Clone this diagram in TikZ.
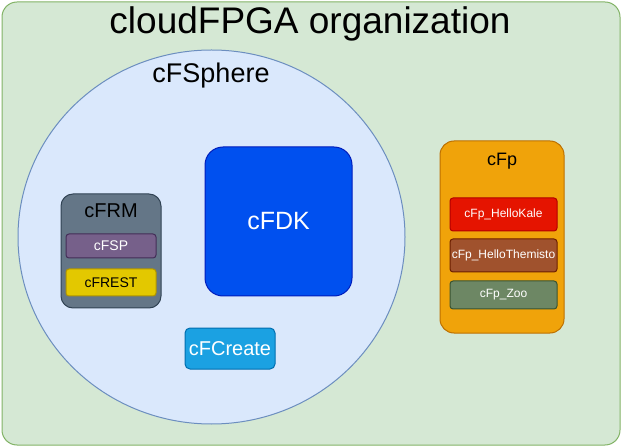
\documentclass[tikz,border=0pt]{standalone}
\usepackage{fontspec}
\setmainfont{Liberation Sans}
\usetikzlibrary{positioning,shapes.geometric}
\definecolor{orgfill}{HTML}{D5E8D4}\definecolor{orgline}{HTML}{82B366}
\definecolor{sphfill}{HTML}{DAE8FC}\definecolor{sphline}{HTML}{6C8EBF}
\definecolor{fdkfill}{HTML}{0050EF}\definecolor{fdkline}{HTML}{001DBC}
\definecolor{frmfill}{HTML}{647687}\definecolor{frmline}{HTML}{314354}
\definecolor{fspfill}{HTML}{76608A}\definecolor{fspline}{HTML}{432D57}
\definecolor{restfill}{HTML}{E3C800}\definecolor{restline}{HTML}{B09500}
\definecolor{crfill}{HTML}{1BA1E2}\definecolor{crline}{HTML}{006EAF}
\definecolor{fpfill}{HTML}{F0A30A}\definecolor{fpline}{HTML}{BD7000}
\definecolor{kalefill}{HTML}{E51400}\definecolor{kaleline}{HTML}{B20000}
\definecolor{themfill}{HTML}{A0522D}\definecolor{themline}{HTML}{6D1F00}
\definecolor{zoofill}{HTML}{6D8764}\definecolor{zooline}{HTML}{3A5431}
\newcommand\pxfont[1]{\fontsize{#1}{#1}\selectfont}
\tikzset{
  box/.style={draw, rounded corners=#1, line width=1pt, inner sep=0pt},
  box/.default=6pt,
  sz/.style 2 args={minimum width=#1, minimum height=#2},
}
\begin{document}
\begin{tikzpicture}[x=1pt,y=-1pt]
		\useasboundingbox (0,0) rectangle (621,446);
		\node[box=15pt, fill=orgfill, draw=orgline, sz={618pt}{443pt}] (org) at (311,223.5) {};
        \node (orgtitle) at (310,24) {\pxfont{37}cloudFPGA organization};
		\node[ellipse, draw=sphline, fill=sphfill, line width=1pt, sz={387pt}{374pt}] (sphere) at (211.5,237) {};
        \node (sphtitle) at (211,76) {\pxfont{27}cFSphere};
        % inside the sphere
		\node[box=18pt, fill=fdkfill, draw=fdkline, sz={147pt}{149pt}, text=white] (fdk) at (278.5,221.5) {\pxfont{25}cFDK};
		\node[box=12pt, fill=frmfill, draw=frmline, sz={100pt}{114pt}] (frm) at (111,251) {};
        \node (frmtitle) at (111,211) {\pxfont{20}cFRM};
		\node[box=3pt, fill=fspfill, draw=fspline, sz={90pt}{24pt}, text=white] (fsp) at (111,246) {\pxfont{14}cFSP};
		\node[box=3pt, fill=restfill, draw=restline, sz={90pt}{27pt}] (rest) at (111,282.5) {\pxfont{14}cFREST};
		\node[box=5pt, fill=crfill, draw=crline, sz={90pt}{41pt}, text=white] (create) at (230,348.5) {\pxfont{20}cFCreate};
        % cFp projects
		\node[box=14pt, fill=fpfill, draw=fpline, sz={124pt}{192pt}] (fp) at (502,237) {};
        \node (fptitle) at (502,161) {\pxfont{18}cFp};
		\node[box=3pt, fill=kalefill, draw=kaleline, sz={107pt}{33pt}, text=white] (kale) at (503.5,214.5) {\pxfont{12}cFp\_HelloKale};
		\node[box=3pt, fill=themfill, draw=themline, sz={107pt}{33pt}, text=white] (themisto) at (503.5,255.5) {\pxfont{12}cFp\_HelloThemisto};
		\node[box=3pt, fill=zoofill, draw=zooline, sz={107pt}{28pt}, text=white] (zoo) at (503.5,295) {\pxfont{12}cFp\_Zoo};
	\end{tikzpicture}
\end{document}
